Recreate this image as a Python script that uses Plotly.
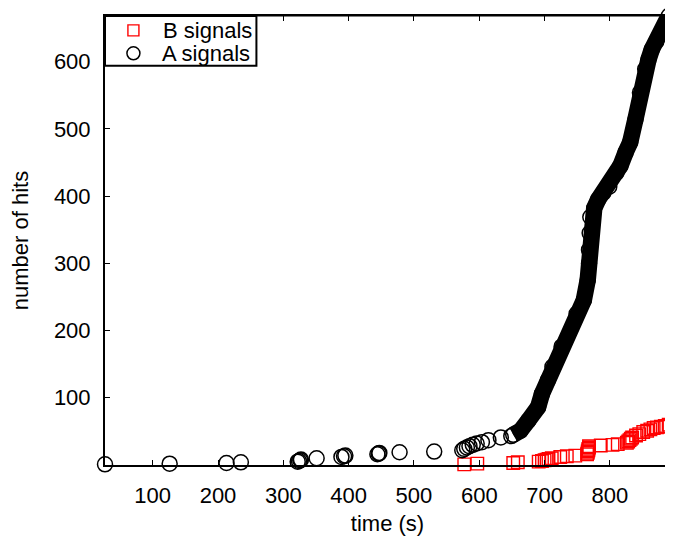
import plotly.graph_objects as go

# ---- data (time in s, cumulative number of hits) ----
# A signals: sparse early hits (drawn as individual circles)
a_sparse_time = [27, 126, 213, 235, 322, 324, 326, 327, 351, 389, 393, 395, 444, 446, 447,
                 478, 531, 574, 577, 581, 585, 590, 596, 604, 614, 633, 649]
a_sparse_hits = [1, 2, 3, 4, 5, 6, 7, 8, 10, 12, 13, 14, 16, 17, 18,
                 19, 20, 22, 24, 26, 28, 30, 32, 34, 37, 41, 43]

# A signals: dense part of the curve (circles overlap into a solid band)
a_dense_time = [652, 663, 675, 690, 696, 705, 712, 726, 749, 760, 766, 768, 768, 769, 770,
                776, 782, 790, 799, 810, 816, 824, 831, 839, 846, 854, 859, 864, 871, 879,
                885, 890]
a_dense_hits = [45, 51, 66, 86, 106, 126, 146, 176, 225, 245, 275, 300, 320, 345, 369,
                382, 395, 405, 414, 435, 445, 465, 480, 514, 554, 589, 603, 618, 630, 644,
                656, 668]

# B signals
b_time = [577, 597, 652, 659, 691, 696, 700, 703, 706, 711, 724, 734, 747, 765, 766, 766,
          767, 767, 768, 768, 786, 804, 812, 826, 828, 830, 832, 834, 840, 845, 851, 857,
          862, 867, 872, 878, 884, 890]
b_hits = [1, 2, 3, 4, 5, 6, 7, 8, 9, 10, 12, 13, 14, 16, 18, 20,
          22, 24, 26, 28, 29, 30, 31, 33, 35, 37, 39, 41, 44, 46, 49, 51,
          53, 55, 56, 57, 58, 60]

series_names = ["B signals", "A signals"]
series_colors = ["#ff0000", "black"]

x_ticks = [100, 200, 300, 400, 500, 600, 700, 800]
y_ticks = [100, 200, 300, 400, 500, 600]

FONT = "Liberation Sans, Arial, sans-serif"
FS = 22

fig = go.Figure()

fig.add_trace(go.Scatter(
    x=b_time, y=b_hits, mode="markers", name=series_names[0], showlegend=False,
    marker=dict(symbol="square-open", size=12.5, color=series_colors[0],
                line=dict(width=1.4, color=series_colors[0])),
    cliponaxis=False,
))

fig.add_trace(go.Scatter(
    x=a_dense_time, y=a_dense_hits, mode="lines+markers", name=series_names[1],
    showlegend=False,
    line=dict(color=series_colors[1], width=16.5),
    marker=dict(symbol="circle-open", size=15, color=series_colors[1],
                line=dict(width=1.5, color=series_colors[1])),
    cliponaxis=False,
))

fig.add_trace(go.Scatter(
    x=a_sparse_time, y=a_sparse_hits, mode="markers", name=series_names[1],
    showlegend=False,
    marker=dict(symbol="circle-open", size=15, color=series_colors[1],
                line=dict(width=1.5, color=series_colors[1])),
    cliponaxis=False,
))

all_t = a_sparse_time + a_dense_time + b_time
all_h = a_sparse_hits + a_dense_hits + b_hits

# ---- key (legend) box in the top-left corner of the plot area ----
shapes = [
    # top border of the frame (thin), no right border
    dict(type="line", xref="paper", yref="paper", x0=0, x1=1, y0=1, y1=1,
         line=dict(color="black", width=1)),
    # key box
    dict(type="rect", xref="paper", yref="paper", x0=0, x1=0.268, y0=0.889, y1=1,
         line=dict(color="black", width=2), fillcolor="white", layer="above"),
    # key symbols
    dict(type="rect", xref="paper", yref="paper", xsizemode="pixel", ysizemode="pixel",
         xanchor=0.0503, yanchor=0.968, x0=-5.5, x1=5.5, y0=-5.5, y1=5.5,
         line=dict(color=series_colors[0], width=1.4), layer="above"),
    dict(type="circle", xref="paper", yref="paper", xsizemode="pixel", ysizemode="pixel",
         xanchor=0.0503, yanchor=0.917, x0=-6.5, x1=6.5, y0=-6.5, y1=6.5,
         line=dict(color=series_colors[1], width=1.5), layer="above"),
]
annotations = [
    dict(text=series_names[0], xref="paper", yref="paper", x=0.099, y=0.968,
         xanchor="left", yanchor="middle", showarrow=False,
         font=dict(family=FONT, size=FS, color="black")),
    dict(text=series_names[1], xref="paper", yref="paper", x=0.097, y=0.917,
         xanchor="left", yanchor="middle", showarrow=False,
         font=dict(family=FONT, size=FS, color="black")),
]

fig.update_layout(
    width=673, height=543,
    margin=dict(l=97, r=11, t=8, b=86, autoexpand=False),
    paper_bgcolor="white", plot_bgcolor="white",
    font=dict(family=FONT, size=FS, color="black"),
    showlegend=False,
    xaxis=dict(
        range=[min(all_t), max(all_t) + 2],
        tickmode="array", tickvals=x_ticks, ticktext=[str(v) for v in x_ticks],
        ticks="inside", ticklen=5, tickwidth=1.3, tickcolor="black",
        showline=True, linecolor="black", linewidth=2, mirror="ticks",
        showgrid=False, zeroline=False, automargin=False,
        ticklabelstandoff=10,
        title=dict(text="time (s)", font=dict(size=FS), standoff=8),
    ),
    yaxis=dict(
        range=[0, max(all_h)],
        tickmode="array", tickvals=y_ticks, ticktext=[str(v) for v in y_ticks],
        ticks="inside", ticklen=5, tickwidth=1.3, tickcolor="black",
        showline=True, linecolor="black", linewidth=2, mirror="ticks",
        showgrid=False, zeroline=False, automargin=False,
        ticklabelstandoff=8,
        title=dict(text="number of hits", font=dict(size=FS), standoff=19),
    ),
    shapes=shapes,
    annotations=annotations,
)

fig.write_html("out.html")
